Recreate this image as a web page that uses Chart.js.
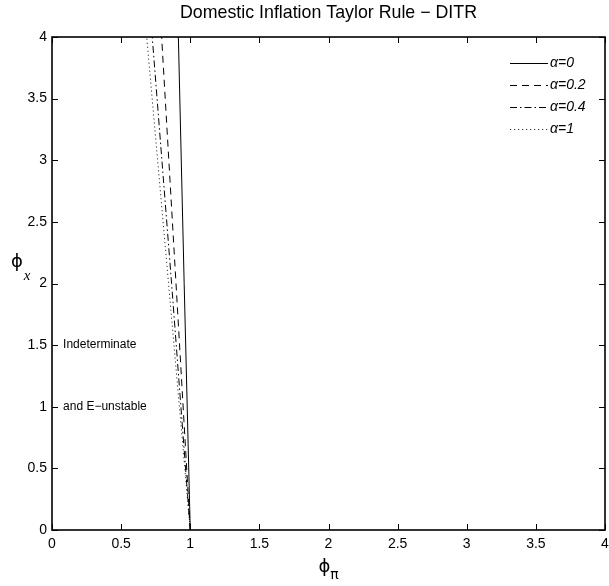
<!DOCTYPE html>
<html><head><meta charset="utf-8">
<script src="https://cdn.jsdelivr.net/npm/chart.js@4.4.1/dist/chart.umd.min.js"></script>
<style>html,body{margin:0;padding:0;background:#fff;}#wrap{width:609px;height:586px;}</style>
</head><body><div id="wrap"><canvas id="c" width="609" height="586"></canvas></div>
<script>
const chartTitle = 'Domestic Inflation Taylor Rule − DITR';
const seriesLabels = ['α=0', 'α=0.2', 'α=0.4', 'α=1'];
const phiX = [0, 2, 4];
const phiPiAlpha0 = [1.0, 0.956, 0.914];
const phiPiAlpha02 = [1.0, 0.897, 0.793];
const phiPiAlpha04 = [1.0, 0.865, 0.725];
const phiPiAlpha1 = [1.0, 0.843, 0.685];
const xTickLabels = ['0', '0.5', '1', '1.5', '2', '2.5', '3', '3.5', '4'];
const yTickLabels = ['0', '0.5', '1', '1.5', '2', '2.5', '3', '3.5', '4'];
const regionText = ['Indeterminate', 'and E−unstable'];

const SANS = '"Liberation Sans", Arial, Helvetica, sans-serif';

function pts(xs, ys) { return xs.map((v, i) => ({ x: v, y: ys[i] })); }

const styles = [
  { dash: [], color: '#000' },
  { dash: [7, 5], color: '#000' },
  { dash: [7, 3, 1.5, 3], color: '#000' },
  { dash: [1.2, 2.8], color: '#333' }
];
const seriesData = [phiPiAlpha0, phiPiAlpha02, phiPiAlpha04, phiPiAlpha1];

const datasets = seriesData.map((s, i) => ({
  label: seriesLabels[i],
  data: pts(s, phiX),
  showLine: true,
  borderColor: styles[i].color,
  borderWidth: 1,
  borderDash: styles[i].dash,
  pointRadius: 0,
  fill: false,
  tension: 0
}));

const decor = {
  id: 'decor',
  afterDraw(chart) {
    const { ctx, chartArea: a, scales: { x, y } } = chart;
    ctx.save();
    // box
    ctx.strokeStyle = '#000';
    ctx.lineWidth = 1.6;
    ctx.strokeRect(a.left, a.top, a.right - a.left, a.bottom - a.top);
    // inward ticks
    const tl = 6;
    ctx.lineWidth = 1;
    ctx.beginPath();
    x.ticks.forEach(t => {
      const px = Math.round(x.getPixelForValue(t.value)) + 0.5;
      ctx.moveTo(px, a.bottom); ctx.lineTo(px, a.bottom - tl);
      ctx.moveTo(px, a.top); ctx.lineTo(px, a.top + tl);
    });
    y.ticks.forEach(t => {
      const py = Math.round(y.getPixelForValue(t.value)) + 0.5;
      ctx.moveTo(a.left, py); ctx.lineTo(a.left + tl, py);
      ctx.moveTo(a.right, py); ctx.lineTo(a.right - tl, py);
    });
    ctx.stroke();

    // title
    ctx.fillStyle = '#000';
    ctx.textAlign = 'center';
    ctx.textBaseline = 'middle';
    ctx.font = '17.8px ' + SANS;
    ctx.fillText(chartTitle, (a.left + a.right) / 2, 13);

    // axis labels
    ctx.font = '18px "DejaVu Sans"';
    ctx.fillText('ϕ', 17, 262);
    ctx.font = 'italic 15px "Liberation Serif", serif';
    ctx.fillText('x', 27, 276);
    const cx = (a.left + a.right) / 2;
    ctx.font = '18px "DejaVu Sans"';
    ctx.fillText('ϕ', cx - 4, 567);
    ctx.font = '14px "DejaVu Sans"';
    ctx.fillText('π', cx + 6, 575);

    // region text
    ctx.textAlign = 'left';
    ctx.font = '12px ' + SANS;
    ctx.fillText(regionText[0], x.getPixelForValue(0.08), y.getPixelForValue(1.5));
    ctx.fillText(regionText[1], x.getPixelForValue(0.08), y.getPixelForValue(1.0));

    // legend
    chart.data.datasets.forEach((d, i) => {
      const ly = a.top + 26 + 22 * i + 0.5;
      const lx0 = a.right - 95, lx1 = a.right - 57;
      ctx.beginPath();
      ctx.setLineDash(d.borderDash);
      ctx.strokeStyle = d.borderColor;
      ctx.lineWidth = 1;
      ctx.moveTo(lx0, ly); ctx.lineTo(lx1, ly);
      ctx.stroke();
      ctx.setLineDash([]);
      ctx.fillStyle = '#000';
      ctx.font = 'italic 14px ' + SANS;
      ctx.textBaseline = 'middle';
      ctx.fillText(d.label, lx1 + 2, ly);
    });
    ctx.restore();
  }
};

new Chart(document.getElementById('c'), {
  type: 'scatter',
  data: { datasets },
  options: {
    responsive: false,
    animation: false,
    devicePixelRatio: 1,
    layout: { padding: { top: 37, right: 4, left: 0, bottom: 0 } },
    plugins: { legend: { display: false }, title: { display: false }, tooltip: { enabled: false } },
    scales: {
      x: {
        type: 'linear', min: 0, max: 4,
        afterFit(s) { s.height = 56; s.paddingLeft = 0; s.paddingRight = 0; },
        grid: { display: false, drawTicks: false },
        border: { display: false },
        ticks: {
          stepSize: 0.5, padding: 6, color: '#000', maxRotation: 0, autoSkip: false,
          font: { family: SANS, size: 14 },
          callback: v => xTickLabels[Math.round(v / 0.5)]
        }
      },
      y: {
        type: 'linear', min: 0, max: 4,
        afterFit(s) { s.width = 52; s.paddingTop = 0; s.paddingBottom = 0; },
        grid: { display: false, drawTicks: false },
        border: { display: false },
        ticks: {
          stepSize: 0.5, padding: 5, color: '#000', autoSkip: false,
          font: { family: SANS, size: 14 },
          callback: v => yTickLabels[Math.round(v / 0.5)]
        }
      }
    }
  },
  plugins: [decor]
});
</script></body></html>
